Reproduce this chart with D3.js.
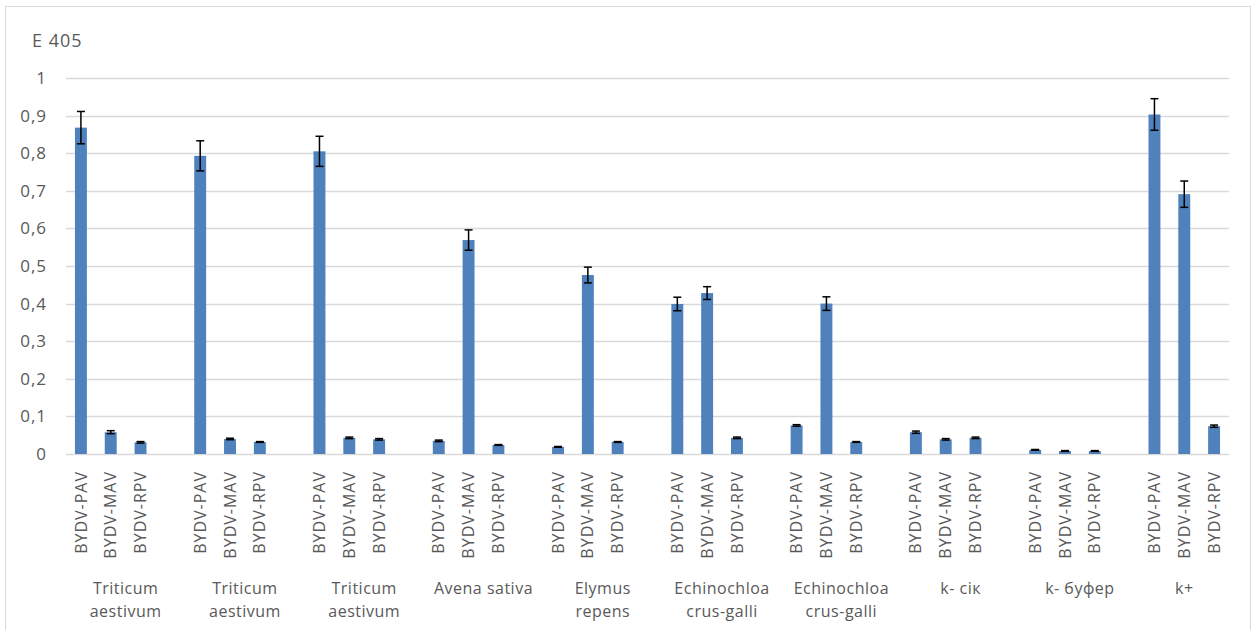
<!DOCTYPE html>
<html>
<head>
<meta charset="utf-8">
<script src="https://cdn.jsdelivr.net/npm/d3@7"></script>
<style>
  body { margin: 0; background: #fff; }
  text { font-family: "Open Sans", Lato, sans-serif; fill: #595959; }
</style>
</head>
<body>
<div id="graph"></div>
<script>
// groups along the x axis, each with three strains
var groups = ["Triticum aestivum", "Triticum aestivum", "Triticum aestivum", "Avena sativa",
              "Elymus repens", "Echinochloa crus-galli", "Echinochloa crus-galli",
              "k- сік", "k- буфер", "k+"]
var strains = ["BYDV-PAV", "BYDV-MAV", "BYDV-RPV"]

// E 405 per group, order PAV, MAV, RPV
var pav = [0.868, 0.793, 0.805, 0.035, 0.019, 0.399, 0.076, 0.058, 0.011, 0.903]
var mav = [0.058, 0.040, 0.043, 0.569, 0.476, 0.428, 0.400, 0.039, 0.008, 0.691]
var rpv = [0.031, 0.032, 0.039, 0.024, 0.032, 0.043, 0.032, 0.043, 0.008, 0.074]

// error bar half widths
var errPav = [0.043, 0.040, 0.040, 0.002, 0.001, 0.018, 0.002, 0.003, 0.001, 0.042]
var errMav = [0.004, 0.002, 0.002, 0.027, 0.021, 0.017, 0.018, 0.002, 0.001, 0.035]
var errRpv = [0.002, 0.001, 0.002, 0.001, 0.001, 0.002, 0.001, 0.002, 0.001, 0.003]

var yTicks = [0, 0.1, 0.2, 0.3, 0.4, 0.5, 0.6, 0.7, 0.8, 0.9, 1]

var w = 1257, h = 630
var color0 = "#4f81bd"
var grid = "#d9d9d9"

// one slot per bar, one empty slot after every group except the last
var data = []
var slots = []
groups.forEach(function(g, i) {
    var vals = [pav[i], mav[i], rpv[i]]
    var errs = [errPav[i], errMav[i], errRpv[i]]
    strains.forEach(function(s, j) {
        var key = i + "-" + j
        slots.push(key)
        data.push({key: key, group: i, strain: s, value: vals[j], err: errs[j]})
    })
    if (i < groups.length - 1) slots.push(i + "-gap")
})

var svg = d3.select("#graph")
    .append("svg")
        .attr("width", w)
        .attr("height", h)

svg.append("rect")
    .attr("x", 5.5)
    .attr("y", 6.5)
    .attr("width", 1245)
    .attr("height", 640)
    .attr("fill", "#fff")
    .attr("stroke", grid)

var x = d3.scaleBand()
    .domain(slots)
    .range([66, 1229])
    .paddingInner(0.6)
    .paddingOuter(0.3)

var y = d3.scaleLinear()
    .domain([0, 1])
    .range([454, 78])

// gridlines
svg.append("g")
    .selectAll("line")
    .data(yTicks)
    .enter()
    .append("line")
        .attr("x1", 66)
        .attr("x2", 1229)
        .attr("y1", function(d) { return Math.round(y(d)) + 0.5 })
        .attr("y2", function(d) { return Math.round(y(d)) + 0.5 })
        .attr("stroke", grid)
        .attr("stroke-width", 1.5)

var yAxis = svg.append("g")
    .attr("transform", "translate(47,0)")
    .call(d3.axisLeft(y)
        .tickValues(yTicks)
        .tickSize(0)
        .tickPadding(0)
        .tickFormat(function(d) { return String(d).replace(".", ",") }))
yAxis.select(".domain").remove()
yAxis.selectAll("text")
    .attr("font-size", 17)
    .attr("letter-spacing", 1)
    .attr("fill", "#595959")
    .style("font-family", "'Open Sans', Lato, sans-serif")

svg.append("text")
    .attr("x", 32)
    .attr("y", 47)
    .attr("font-size", 18)
    .attr("letter-spacing", 1)
    .text("E 405")

// bars
svg.append("g")
    .selectAll("rect")
    .data(data)
    .enter()
    .append("rect")
        .attr("x", function(d) { return x(d.key) })
        .attr("y", function(d) { return y(d.value) })
        .attr("width", x.bandwidth())
        .attr("height", function(d) { return y(0) - y(d.value) })
        .attr("fill", color0)

// error bars
var eb = svg.append("g")
    .selectAll("g")
    .data(data)
    .enter()
    .append("g")
        .attr("transform", function(d) {
            return "translate(" + (x(d.key) + x.bandwidth() / 2) + ",0)"
        })
        .attr("stroke", "#000")
        .attr("stroke-width", 1.5)

eb.append("line")
    .attr("y1", function(d) { return y(d.value + d.err) })
    .attr("y2", function(d) { return y(d.value - d.err) })
eb.append("line")
    .attr("x1", -4).attr("x2", 4)
    .attr("y1", function(d) { return y(d.value + d.err) })
    .attr("y2", function(d) { return y(d.value + d.err) })
eb.append("line")
    .attr("x1", -4).attr("x2", 4)
    .attr("y1", function(d) { return y(d.value - d.err) })
    .attr("y2", function(d) { return y(d.value - d.err) })

// rotated strain labels
svg.append("g")
    .selectAll("text")
    .data(data)
    .enter()
    .append("text")
        .attr("transform", function(d) {
            return "translate(" + (x(d.key) + x.bandwidth() / 2) + ",471) rotate(-90)"
        })
        .attr("dy", "0.35em")
        .attr("text-anchor", "end")
        .attr("font-size", 16)
        .attr("letter-spacing", 1)
        .text(function(d) { return d.strain })

// group labels, centred under the group's slots
var glab = svg.append("g")
    .selectAll("text")
    .data(groups)
    .enter()
    .append("text")
        .attr("text-anchor", "middle")
        .attr("font-size", 16)
        .attr("letter-spacing", 0.5)
        .attr("transform", function(d, i) {
            var step = x.step()
            var left = x(i + "-0") - (step - x.bandwidth()) / 2
            var n = i < groups.length - 1 ? 4 : 3
            return "translate(" + (left + n * step / 2) + ",594)"
        })

glab.each(function(d) {
    var t = d3.select(this)
    var words = d.split(" ")
    var lines = (d.indexOf("k") == 0 || d == "Avena sativa") ? [d] : [words[0], words.slice(1).join(" ")]
    lines.forEach(function(l, k) {
        t.append("tspan")
            .attr("x", 0)
            .attr("y", k * 23)
            .text(l)
    })
})
</script>
</body>
</html>
